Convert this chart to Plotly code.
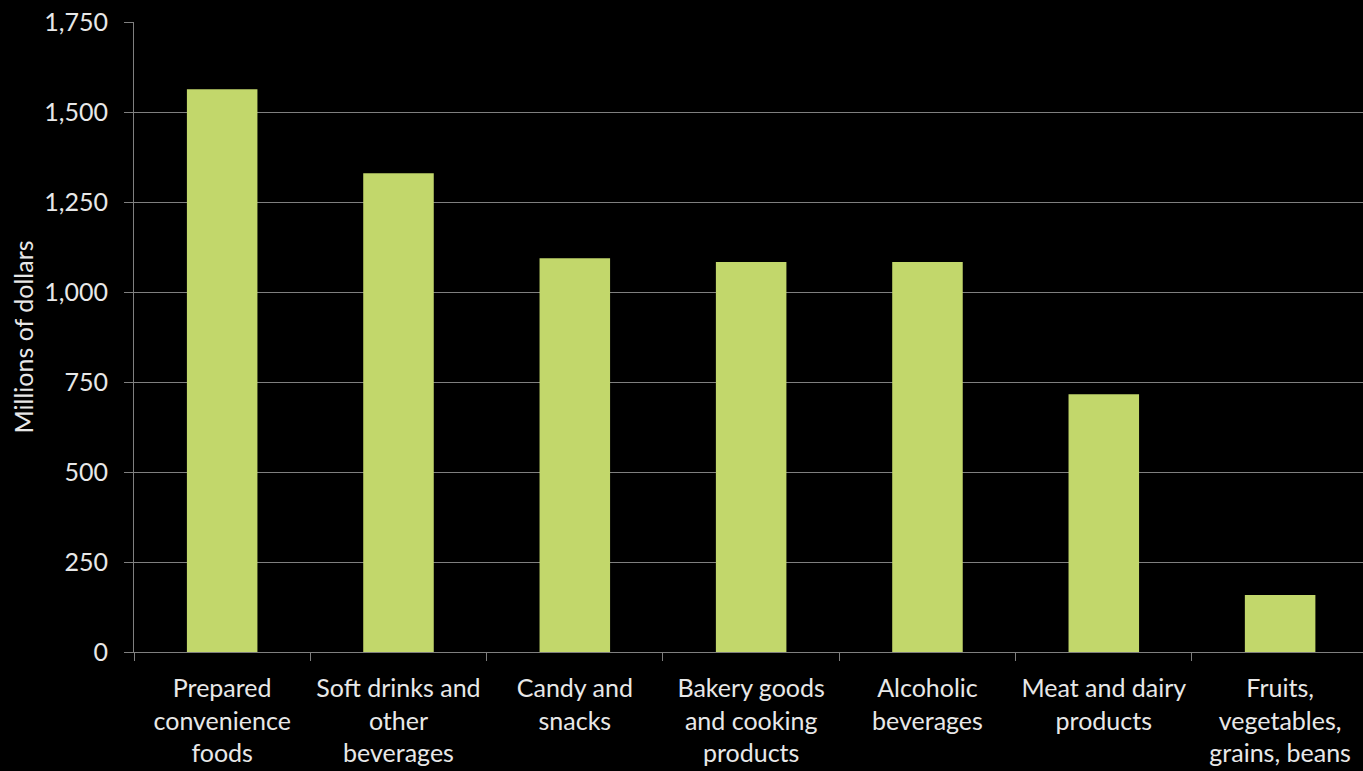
import plotly.graph_objects as go

categories = [
    "Prepared<br>convenience<br>foods",
    "Soft drinks and<br>other<br>beverages",
    "Candy and<br>snacks",
    "Bakery goods<br>and cooking<br>products",
    "Alcoholic<br>beverages",
    "Meat and dairy<br>products",
    "Fruits,<br>vegetables,<br>grains, beans",
]
values = [1563, 1330, 1094, 1083, 1083, 716, 158]
y_ticks = [0, 250, 500, 750, 1000, 1250, 1500, 1750]
y_tick_labels = ["0", "250", "500", "750", "1,000", "1,250", "1,500", "1,750"]

FONT = "Lato"
GRID = "#7f7f7f"
TXT = "#e8e8e8"

fig = go.Figure(go.Bar(x=categories, y=values, marker=dict(color="#C2D76B", line=dict(width=0))))

fig.update_layout(
    width=1363, height=771,
    paper_bgcolor="black", plot_bgcolor="black",
    margin=dict(l=134, r=0, t=22, b=119),
    bargap=0.6,
    font=dict(family=FONT, color=TXT, size=25),
    showlegend=False,
)
fig.update_yaxes(
    range=[0, 1750], tickvals=y_ticks, ticktext=y_tick_labels,
    showgrid=True, gridcolor=GRID, gridwidth=1,
    showline=True, linecolor=GRID, linewidth=1,
    ticks="outside", ticklen=9, tickcolor=GRID,
    ticklabelstandoff=11,
    tickfont=dict(size=25, family=FONT, color=TXT),
    zeroline=False,
    title=dict(text="Millions of dollars", font=dict(size=25, family=FONT, color=TXT), standoff=3),
)
fig.update_xaxes(
    range=[-0.5, 6.47],
    showline=True, linecolor=GRID, linewidth=1,
    ticks="outside", ticklen=8, tickcolor=GRID, tickson="boundaries",
    tickfont=dict(size=25, family=FONT, color=TXT),
    tickangle=0,
    ticklabelstandoff=14,
    showgrid=False,
)

fig.write_html("out.html")
